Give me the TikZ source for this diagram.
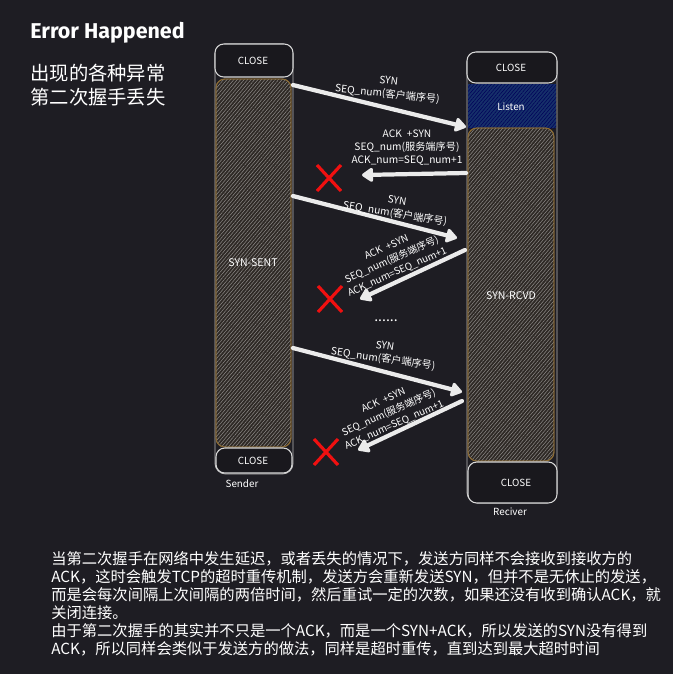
\documentclass[tikz,border=0pt]{standalone}
\usepackage{fontspec}
\setmainfont{Noto Sans CJK SC}
\newfontfamily\titlefont{Fira Sans}
\usepackage{tikz}
\usetikzlibrary{arrows.meta, positioning, calc, patterns.meta}
\usepackage{xcolor}
\definecolor{bgdark}{HTML}{1E1D23}
\definecolor{boxdark}{HTML}{19181D}
\definecolor{hatchbrown}{HTML}{2E2925}
\definecolor{hatchedge}{HTML}{8A6A34}
\definecolor{listenblue}{HTML}{16306A}
\definecolor{framegray}{HTML}{B8B8B8}
\definecolor{crossred}{HTML}{F01010}

\begin{document}
\begin{tikzpicture}[x=0.02cm, y=-0.02cm,
    closebox/.style={draw=white!85!black, fill=boxdark, rounded corners=5pt, line width=0.6pt},
    statebox/.style={draw=hatchedge, fill=hatchbrown, rounded corners=5pt, line width=0.5pt},
    hatch/.style={pattern={Lines[angle=50, distance=1.5pt, line width=0.3pt]}, pattern color=white!45!hatchbrown},
    lbl/.style={text=white, font=\fontsize{5.6}{7}\selectfont},
    msg/.style={text=white, font=\fontsize{5.8}{7.4}\selectfont, align=center, inner sep=0pt},
    tilted/.style={msg, rotate=24, font=\fontsize{5.6}{7.6}\selectfont},
    packet/.style={draw=white!92!black, line width=2.4pt, line cap=round, -{Triangle[round, length=7pt, width=9pt]}},
    lost/.style={draw=crossred, line width=1.8pt}]
  % background
  \fill[bgdark] (0,0) rectangle (673,674);
  \useasboundingbox (0,0) rectangle (673,674);

  % title
  \node[anchor=west, text=white, inner sep=0pt, font=\titlefont\bfseries\fontsize{12.2}{14}\selectfont] (title) at (30,33) {Error Happened};
  \node[anchor=north west, text=white, align=left, inner sep=0pt,
        font=\fontsize{11}{13.6}\selectfont] (subtitle) at (30,64) {出现的各种异常\\第二次握手丢失};

  % sender column
  \draw[framegray, line width=0.5pt, rounded corners=6pt] (215,44) rectangle (293,474);
  \fill[statebox] (216,79) rectangle (291,447);
  \fill[hatch, rounded corners=5pt] (216,79) rectangle (291,447);
  \draw[hatchedge, line width=0.5pt, rounded corners=5pt] (216,79) rectangle (291,447);
  \draw[closebox] (215,44) rectangle (293,77);
  \draw[closebox] (216,448) rectangle (292,473);
  \node[lbl] (sclose) at (253,61) {CLOSE};
  \node[lbl, font=\fontsize{6}{7}\selectfont] (ssent) at (253,263) {SYN-SENT};
  \node[lbl] (sclose2) at (253,461) {CLOSE};
  \node[lbl] (sender) at (242,484) {Sender};

  % receiver column
  \draw[framegray, line width=0.5pt, rounded corners=6pt] (467,52) rectangle (557,503);
  \fill[listenblue] (468,84) rectangle (556,128);
  \fill[pattern={Lines[angle=50, distance=1.5pt, line width=0.3pt]}, pattern color=black!65!blue] (468,84) rectangle (556,128);
  \fill[statebox] (468,128) rectangle (554,461);
  \fill[hatch, rounded corners=5pt] (468,128) rectangle (554,461);
  \draw[hatchedge, line width=0.5pt, rounded corners=5pt] (468,128) rectangle (554,461);
  \draw[closebox] (467,52) rectangle (557,83);
  \draw[closebox] (468,462) rectangle (557,503);
  \node[lbl] (rclose) at (511,68) {CLOSE};
  \node[lbl] (listen) at (511,107) {Listen};
  \node[lbl, font=\fontsize{6}{7}\selectfont] (rrcvd) at (511,296) {SYN-RCVD};
  \node[lbl] (rclose2) at (516,483) {CLOSE};
  \node[lbl] (receiver) at (510,512) {Reciver};

  % end points of the packets
  \coordinate (s1) at (293,85);   \coordinate (r1) at (466,127);
  \coordinate (r2) at (466,173);  \coordinate (s2) at (362,175);
  \coordinate (s3) at (293,196);  \coordinate (r3) at (457,238);
  \coordinate (r4) at (465,250);  \coordinate (s4) at (360,299);
  \coordinate (s5) at (293,348);  \coordinate (r5) at (462,392);
  \coordinate (r6) at (462,401);  \coordinate (s6) at (358,450);

  \draw[packet] (s1) -- (r1);
  \draw[packet] (r2) -- (s2);
  \draw[packet] (s3) -- (r3);
  \draw[packet] (r4) -- (s4);
  \draw[packet] (s5) -- (r5);
  \draw[packet] (r6) -- (s6);

  \node[msg, rotate=-6] (syn1) at (388,88) {SYN\\SEQ\_num(客户端序号)};
  \node[msg] (ack1) at (407,148) {ACK\enspace+SYN\\SEQ\_num(服务端序号)\\ACK\_num=SEQ\_num+1};
  \node[msg, rotate=-9] (syn2) at (396,208) {SYN\\SEQ\_num(客户端序号)};
  \node[tilted] (ack2) at (392,260) {ACK\enspace+SYN\\SEQ\_num(服务端序号)\\ACK\_num=SEQ\_num+1};
  \node[msg, font=\fontsize{8}{8}\selectfont] (dots) at (386,321) {......};
  \node[msg, rotate=-8] (syn3) at (384,353) {SYN\\SEQ\_num(客户端序号)};
  \node[tilted] (ack3) at (389,413) {ACK\enspace+SYN\\SEQ\_num(服务端序号)\\ACK\_num=SEQ\_num+1};

  % lost replies
  \foreach \cx/\cy in {329/178, 330/299, 326/452}{
    \draw[lost] (\cx-12,\cy-13) -- (\cx+12,\cy+13);
    \draw[lost] (\cx+12,\cy-13) -- (\cx-12,\cy+13);
  }

  % explanation
  \node[anchor=north west, text=white, align=left, inner sep=0pt,
        font=\fontsize{8.7}{10.3}\selectfont] (note) at (51,551)
    {当第二次握手在网络中发生延迟，或者丢失的情况下，发送方同样不会接收到接收方的\\
     ACK，这时会触发TCP的超时重传机制，发送方会重新发送SYN，但并不是无休止的发送，\\
     而是会每次间隔上次间隔的两倍时间，然后重试一定的次数，如果还没有收到确认ACK，就\\
     关闭连接。\\
     由于第二次握手的其实并不只是一个ACK，而是一个SYN+ACK，所以发送的SYN没有得到\\
     ACK，所以同样会类似于发送方的做法，同样是超时重传，直到达到最大超时时间};
\end{tikzpicture}
\end{document}
